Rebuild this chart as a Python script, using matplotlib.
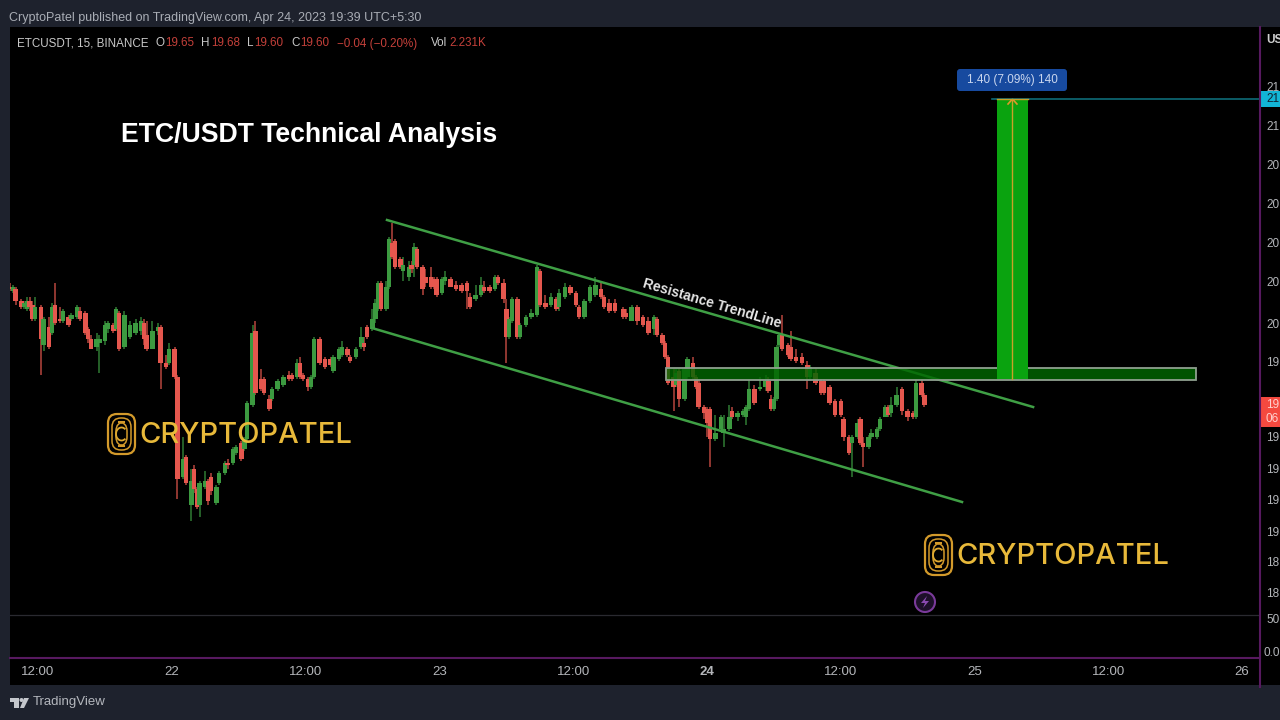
"""
plot.py
=======
ETC/USDT 15m chart with channel lines, supply box and long target.
"""
import numpy as np
import matplotlib
matplotlib.use("Agg")
import matplotlib.pyplot as plt
from matplotlib.patches import Rectangle, FancyBboxPatch, Circle, Polygon, Arc

plt.rcParams["font.family"] = ["Liberation Sans", "DejaVu Sans"]

# bar number counted in 15 min steps from Apr 21 12:00
bar_index = [
    -10, -9, -8, -6, -5, -4, -3, -2, -1, 1, 2, 4, 5, 6, 8, 9, 11, 12, 14, 15,
    17, 18, 19, 21, 22, 24, 25, 27, 28, 29, 31, 33, 35, 37, 38, 39, 41, 43, 44, 46,
    47, 49, 50, 52, 53, 55, 56, 57, 58, 60, 61, 62, 64, 65, 67, 68, 70, 71, 73, 74,
    75, 77, 78, 80, 81, 83, 84, 86, 88, 90, 91, 93, 94, 95, 97, 98, 99, 101, 103, 105,
    106, 108, 109, 111, 112, 114, 116, 117, 118, 120, 121, 122, 123, 125, 126, 127, 128, 130, 131, 133,
    134, 135, 136, 138, 139, 141, 142, 143, 145, 146, 148, 150, 152, 154, 155, 157, 159, 160, 162, 164,
    165, 167, 168, 169, 170, 172, 173, 175, 177, 179, 180, 182, 184, 186, 187, 189, 191, 193, 194, 196,
    198, 200, 202, 203, 205, 207, 210, 211, 213, 215, 217, 219, 221, 222, 224, 225, 226, 228, 229, 230,
    232, 233, 235, 236, 237, 239, 240, 241, 243, 245, 246, 248, 249, 251, 253, 254, 255, 257, 259, 261,
    262, 263, 264, 265, 266, 267, 269, 270, 272, 274, 276, 277, 279, 281, 282, 284, 286, 288, 289, 291,
    292, 294, 295, 296, 298, 299, 301, 302, 304, 305, 306, 308, 310, 312, 314, 315, 317, 318,
]
opens = [
    20.21, 20.19, 20.20, 20.14, 20.11, 20.10, 20.14, 20.12, 20.05, 20.11, 19.92, 20.01, 19.98, 20.12, 20.05, 20.04, 20.06, 20.05, 20.06, 20.09,
    20.08, 20.00, 19.95, 19.91, 19.93, 19.94, 20.00, 20.02, 20.00, 20.08, 19.91, 19.96, 19.98, 19.99, 20.03, 19.97, 19.90, 19.99, 20.01, 19.83,
    19.83, 19.90, 19.76, 19.26, 19.36, 19.12, 19.30, 19.20, 19.12, 19.21, 19.24, 19.26, 19.13, 19.23, 19.28, 19.33, 19.33, 19.38, 19.43, 19.40,
    19.45, 19.62, 19.99, 19.75, 19.75, 19.65, 19.65, 19.70, 19.72, 19.77, 19.77, 19.76, 19.83, 19.77, 19.75, 19.71, 19.76, 19.95, 19.85, 19.85,
    19.79, 19.85, 19.87, 19.90, 19.86, 19.86, 19.91, 19.93, 20.01, 20.00, 20.05, 20.10, 20.23, 20.10, 20.21, 20.43, 20.44, 20.35, 20.29, 20.26,
    20.32, 20.32, 20.40, 20.31, 20.26, 20.26, 20.25, 20.25, 20.18, 20.24, 20.25, 20.22, 20.22, 20.23, 20.16, 20.15, 20.17, 20.21, 20.21, 20.20,
    20.26, 20.23, 20.10, 19.96, 20.04, 20.15, 19.96, 20.02, 20.06, 20.07, 20.29, 20.13, 20.12, 20.15, 20.11, 20.16, 20.21, 20.18, 20.11, 20.06,
    20.14, 20.17, 20.20, 20.16, 20.13, 20.13, 20.10, 20.08, 20.04, 20.11, 20.06, 20.04, 20.00, 20.05, 19.97, 19.93, 19.86, 19.76, 19.72, 19.79,
    19.65, 19.76, 19.83, 19.76, 19.73, 19.61, 19.60, 19.60, 19.45, 19.50, 19.48, 19.50, 19.59, 19.56, 19.57, 19.56, 19.60, 19.70, 19.70, 19.71,
    19.74, 19.65, 19.60, 19.65, 19.92, 19.97, 19.92, 19.91, 19.86, 19.86, 19.82, 19.76, 19.78, 19.74, 19.74, 19.71, 19.64, 19.64, 19.55, 19.46,
    19.43, 19.46, 19.55, 19.43, 19.41, 19.46, 19.46, 19.50, 19.56, 19.61, 19.58, 19.62, 19.70, 19.59, 19.58, 19.56, 19.73, 19.67,
]
closes = [
    20.20, 20.21, 20.14, 20.11, 20.13, 20.14, 20.11, 20.05, 20.11, 19.95, 20.05, 19.91, 20.11, 20.03, 20.04, 20.09, 20.02, 20.07, 20.11, 20.05,
    19.98, 19.95, 19.90, 19.95, 19.95, 20.02, 20.03, 19.99, 20.10, 19.90, 20.07, 20.02, 20.03, 20.04, 19.95, 19.90, 19.99, 20.01, 19.83, 19.81,
    19.90, 19.76, 19.25, 19.35, 19.23, 19.24, 19.20, 19.11, 19.23, 19.24, 19.14, 19.19, 19.21, 19.28, 19.33, 19.32, 19.40, 19.41, 19.35, 19.45,
    19.63, 19.98, 19.68, 19.70, 19.68, 19.60, 19.70, 19.74, 19.76, 19.75, 19.75, 19.83, 19.76, 19.75, 19.71, 19.76, 19.95, 19.83, 19.81, 19.82,
    19.86, 19.90, 19.91, 19.87, 19.84, 19.90, 19.96, 19.91, 19.96, 20.05, 20.13, 20.23, 20.10, 20.21, 20.45, 20.36, 20.31, 20.31, 20.32, 20.31,
    20.30, 20.41, 20.31, 20.20, 20.23, 20.21, 20.21, 20.17, 20.25, 20.26, 20.21, 20.20, 20.19, 20.19, 20.11, 20.17, 20.22, 20.19, 20.19, 20.26,
    20.23, 20.15, 19.96, 20.05, 20.15, 19.96, 20.02, 20.06, 20.08, 20.31, 20.12, 20.11, 20.16, 20.10, 20.18, 20.21, 20.18, 20.12, 20.06, 20.14,
    20.21, 20.22, 20.16, 20.11, 20.09, 20.09, 20.06, 20.06, 20.11, 20.04, 20.02, 19.98, 20.06, 19.97, 19.93, 19.86, 19.73, 19.71, 19.78, 19.65,
    19.80, 19.85, 19.76, 19.71, 19.61, 19.58, 19.53, 19.45, 19.48, 19.56, 19.50, 19.56, 19.56, 19.58, 19.59, 19.61, 19.70, 19.63, 19.71, 19.74,
    19.69, 19.60, 19.65, 19.91, 19.97, 19.90, 19.87, 19.85, 19.84, 19.83, 19.76, 19.81, 19.73, 19.68, 19.68, 19.63, 19.57, 19.57, 19.46, 19.38,
    19.46, 19.53, 19.43, 19.41, 19.46, 19.48, 19.50, 19.55, 19.61, 19.57, 19.62, 19.67, 19.59, 19.56, 19.56, 19.73, 19.67, 19.62,
]
highs = [
    20.23, 20.22, 20.21, 20.15, 20.14, 20.16, 20.16, 20.14, 20.16, 20.12, 20.06, 20.06, 20.13, 20.23, 20.11, 20.10, 20.07, 20.08, 20.12, 20.11,
    20.09, 20.01, 19.97, 19.98, 19.97, 20.04, 20.04, 20.03, 20.11, 20.09, 20.09, 20.04, 20.05, 20.06, 20.05, 20.04, 20.04, 20.03, 20.02, 19.87,
    19.93, 19.91, 19.77, 19.46, 19.37, 19.30, 19.32, 19.21, 19.24, 19.29, 19.25, 19.28, 19.22, 19.29, 19.34, 19.35, 19.41, 19.42, 19.44, 19.46,
    19.64, 20.02, 20.04, 19.80, 19.76, 19.67, 19.71, 19.75, 19.77, 19.79, 19.78, 19.85, 19.86, 19.78, 19.76, 19.77, 19.96, 19.96, 19.86, 19.86,
    19.87, 19.91, 19.94, 19.91, 19.87, 19.91, 20.01, 19.96, 20.02, 20.10, 20.15, 20.24, 20.24, 20.24, 20.46, 20.53, 20.45, 20.36, 20.36, 20.34,
    20.34, 20.43, 20.41, 20.32, 20.30, 20.31, 20.26, 20.26, 20.26, 20.29, 20.26, 20.24, 20.23, 20.24, 20.18, 20.22, 20.26, 20.24, 20.22, 20.27,
    20.27, 20.25, 20.15, 20.06, 20.16, 20.16, 20.03, 20.07, 20.10, 20.32, 20.30, 20.17, 20.18, 20.16, 20.20, 20.23, 20.22, 20.19, 20.12, 20.15,
    20.22, 20.26, 20.23, 20.17, 20.15, 20.15, 20.11, 20.10, 20.12, 20.12, 20.07, 20.06, 20.07, 20.06, 19.98, 19.94, 19.87, 19.80, 19.80, 19.80,
    19.81, 19.86, 19.86, 19.77, 19.75, 19.62, 19.61, 19.61, 19.57, 19.57, 19.57, 19.62, 19.61, 19.59, 19.60, 19.62, 19.75, 19.72, 19.76, 19.77,
    19.76, 19.67, 19.66, 19.92, 19.98, 20.07, 19.93, 19.99, 19.90, 19.88, 19.84, 19.82, 19.80, 19.75, 19.75, 19.72, 19.65, 19.65, 19.56, 19.47,
    19.47, 19.55, 19.56, 19.46, 19.47, 19.50, 19.51, 19.56, 19.62, 19.62, 19.66, 19.71, 19.71, 19.60, 19.59, 19.75, 19.75, 19.68,
]
lows = [
    20.19, 20.18, 20.12, 20.10, 20.10, 20.09, 20.09, 20.04, 20.04, 19.77, 19.89, 19.90, 19.97, 20.02, 20.03, 20.03, 20.01, 20.04, 20.05, 20.04,
    19.97, 19.93, 19.90, 19.89, 19.78, 19.92, 19.98, 19.98, 19.99, 19.89, 19.90, 19.95, 19.97, 19.97, 19.92, 19.89, 19.90, 19.97, 19.70, 19.80,
    19.82, 19.75, 19.15, 19.25, 19.22, 19.04, 19.18, 19.10, 19.06, 19.20, 19.12, 19.17, 19.12, 19.22, 19.27, 19.30, 19.32, 19.37, 19.34, 19.39,
    19.44, 19.61, 19.67, 19.69, 19.67, 19.59, 19.64, 19.69, 19.71, 19.74, 19.74, 19.75, 19.75, 19.74, 19.69, 19.70, 19.75, 19.82, 19.80, 19.81,
    19.78, 19.84, 19.86, 19.86, 19.83, 19.85, 19.90, 19.89, 19.95, 19.99, 20.03, 20.09, 20.09, 20.09, 20.20, 20.35, 20.30, 20.30, 20.24, 20.24,
    20.28, 20.26, 20.30, 20.17, 20.21, 20.20, 20.20, 20.16, 20.17, 20.22, 20.21, 20.19, 20.18, 20.10, 20.10, 20.14, 20.16, 20.18, 20.18, 20.19,
    20.22, 20.13, 19.83, 19.95, 20.03, 19.95, 19.95, 20.01, 20.05, 20.06, 20.11, 20.10, 20.11, 20.09, 20.09, 20.15, 20.17, 20.11, 20.05, 20.05,
    20.13, 20.16, 20.15, 20.10, 20.08, 20.08, 20.05, 20.05, 20.04, 20.02, 20.01, 19.97, 19.97, 19.96, 19.92, 19.85, 19.72, 19.59, 19.71, 19.61,
    19.64, 19.75, 19.75, 19.70, 19.60, 19.55, 19.46, 19.31, 19.44, 19.49, 19.41, 19.49, 19.55, 19.54, 19.56, 19.52, 19.59, 19.62, 19.69, 19.69,
    19.68, 19.59, 19.59, 19.64, 19.91, 19.89, 19.86, 19.84, 19.83, 19.82, 19.70, 19.75, 19.72, 19.67, 19.67, 19.62, 19.56, 19.56, 19.44, 19.37,
    19.26, 19.45, 19.42, 19.31, 19.40, 19.45, 19.45, 19.49, 19.56, 19.56, 19.56, 19.61, 19.57, 19.54, 19.55, 19.55, 19.66, 19.61,
]

upper_channel_x = [125.2, 357.0]
upper_channel_y = [20.545, 19.61]
lower_channel_x = [119.8, 331.5]
lower_channel_y = [20.005, 19.135]
zone_x = [225.3, 415.4]
zone_y = [19.745, 19.805]
target_x = [344.0, 355.2]
target_y = [19.75, 21.15]
target_line_start = 342.2

x_ticks = [0, 48, 96, 144, 192, 240, 288, 336, 384, 432]
x_labels = ["12:00", "22", "12:00", "23", "12:00", "24", "12:00", "25", "12:00", "26"]
y_ticks = [21.215, 21.02, 20.825, 20.63, 20.435, 20.24, 20.03, 19.835, 19.465, 19.305, 19.15, 18.99, 18.84, 18.685]
y_labels = ["21", "21", "20", "20", "20", "20", "20", "19", "19", "19", "19", "19", "18", "18"]

BG = "#1e222d"
UP = "#3c9a40"
DOWN = "#e5574e"
TEXT = "#b4b6ba"
PURPLE = "#57195f"
GOLD = "#e8b93a"


def draw_logo(ax, x, y):
    """Coin mark plus wordmark, x/y = top left of the coin in pixels."""
    w, h = 27, 40
    for inset, lw in [(0, 1.6), (4, 1.1), (8, 1.1)]:
        ax.add_patch(FancyBboxPatch((x + inset + 5, y + inset + 5), w - 2 * inset - 10, h - 2 * inset - 10,
                                    boxstyle="round,pad=5,rounding_size=9", fc="none",
                                    ec="#d39a2b", lw=lw))
    ax.add_patch(Arc((x + w / 2, y + h / 2), 11, 13, theta1=50, theta2=310, ec="#e0aa30", lw=1.3))
    ax.text(x + w + 4, y + h / 2 + 1.5, "CRYPTOPATEL", color=GOLD, fontsize=21,
            family="Inter", fontweight="medium", va="center", ha="left")


def main():
    fig = plt.figure(figsize=(12.8, 7.2), dpi=100, facecolor=BG)

    # black plot area including the scale strips
    back = fig.add_axes([0, 0, 1, 1], zorder=0)
    back.set_xlim(0, 1280)
    back.set_ylim(720, 0)
    back.axis("off")
    back.add_patch(Rectangle((10, 27), 1270, 658, fc="black", ec="none"))

    ax = fig.add_axes([10 / 1280, (720 - 658) / 720, 1250 / 1280, 631 / 720], zorder=1)
    ax.patch.set_alpha(0)
    ax.set_xlim(-10.05, 438.4)
    ax.set_ylim(18.355, 21.51)
    for s in ax.spines.values():
        s.set_visible(False)

    idx = np.array(bar_index)
    o, c, h, l = map(np.array, (opens, closes, highs, lows))
    up = c >= o
    colors = np.where(up, UP, DOWN)
    ax.vlines(idx, l, h, colors=colors, lw=1.1, alpha=0.8, zorder=2)
    ax.bar(idx, np.abs(c - o), bottom=np.minimum(o, c), width=1.6, color=colors, lw=0, zorder=3)

    ax.plot(upper_channel_x, upper_channel_y, color="#3f9f45", lw=1.8, zorder=4)
    ax.plot(lower_channel_x, lower_channel_y, color="#3f9f45", lw=1.8, zorder=4)

    ax.add_patch(Rectangle((zone_x[0], zone_y[0]), zone_x[1] - zone_x[0], zone_y[1] - zone_y[0],
                           fc=(0.0, 0.4, 0.0, 0.82), ec="#8fa08f", lw=1.3, zorder=5))
    ax.add_patch(Rectangle((target_x[0], target_y[0]), target_x[1] - target_x[0], target_y[1] - target_y[0],
                           fc="#0aa30f", ec="none", zorder=5))
    mid = (target_x[0] + target_x[1]) / 2
    ax.plot([mid, mid], target_y, color="#c9a227", lw=1, zorder=6)
    ax.plot([mid - 1.6, mid, mid + 1.6], [target_y[1] - 0.025, target_y[1], target_y[1] - 0.025],
            color="#e0982a", lw=1.2, zorder=6)
    ax.plot([target_line_start, ax.get_xlim()[1]], [target_y[1], target_y[1]], color="#0e6c78", lw=1.2, zorder=6)
    ax.plot([target_x[0], target_x[1]], [target_y[1], target_y[1]], color="#c9a227", lw=1, zorder=6)
    ax.axhline(18.57, color="#2a2a30", lw=0.9, zorder=1)

    ax.set_xticks(x_ticks, labels=x_labels)
    ax.set_yticks(y_ticks, labels=y_labels)
    ax.yaxis.tick_right()
    ax.tick_params(axis="x", length=0, pad=6, labelsize=9.5, colors=TEXT)
    ax.tick_params(axis="y", length=0, pad=4.5, labelsize=8.5, colors=TEXT)
    ax.get_xticklabels()[5].set_fontweight("bold")

    # everything else sits on a pixel overlay
    top = fig.add_axes([0, 0, 1, 1], zorder=2)
    top.set_xlim(0, 1280)
    top.set_ylim(720, 0)
    top.axis("off")

    top.plot([10, 1260], [658, 658], color=PURPLE, lw=1.5)
    top.plot([1260, 1260], [27, 687], color=PURPLE, lw=1.5)

    top.text(9, 17.5, "CryptoPatel published on TradingView.com, Apr 24, 2023 19:39 UTC+5:30",
             color="#a9adb5", fontsize=9, va="center")

    legend = [(17, "ETCUSDT, 15, BINANCE", "#c8c8c8"), (155, "O", "#c8c8c8"), (165, "19.65", "#c4403a"),
              (201, "H", "#c8c8c8"), (211, "19.68", "#c4403a"), (247, "L", "#c8c8c8"), (254, "19.60", "#c4403a"),
              (291, "C", "#c8c8c8"), (300, "19.60", "#c4403a"), (337, "\u22120.04 (\u22120.20%)", "#c4403a"),
              (431, "Vol", "#c8c8c8"), (449, "2.231K", "#c4403a")]
    for x, txt, col in legend:
        top.text(x, 43.5, txt, color=col, fontsize=8.4, va="center")

    top.text(121, 135, "ETC/USDT Technical Analysis", color="white", fontsize=19.15,
             fontweight="bold", va="center")
    top.text(712, 304, "Resistance TrendLine", color="#e6e6e6", fontsize=10, fontweight="bold",
             rotation=-16.5, rotation_mode="anchor", ha="center", va="center")

    top.add_patch(FancyBboxPatch((960, 72), 104, 16, boxstyle="round,pad=3,rounding_size=3",
                                 fc="#174a9f", ec="none"))
    top.text(1012, 80, "1.40 (7.09%) 140", color="#c9d6ee", fontsize=8.5, ha="center", va="center")

    draw_logo(top, 108, 414)
    draw_logo(top, 925, 535)

    top.add_patch(Circle((925, 602), 10, fc="#1d1029", ec="#7a3a9a", lw=1.5))
    top.add_patch(Polygon([(927, 596), (921, 603), (925, 603), (923, 608), (929, 601), (925, 601)],
                          closed=True, fc="#8a4ab0", ec="none"))

    # price scale tags and the labels that fit in the strip
    top.text(1266, 40, "US", color="#d0d0d0", fontsize=8.5, fontweight="bold", va="center")
    top.add_patch(Rectangle((1260, 91), 20, 16, fc="#12b5d6", ec="none"))
    top.text(1266, 99, "21", color="#123", fontsize=8.5, va="center")
    top.add_patch(Rectangle((1260, 397), 20, 30, fc="#f4493f", ec="none"))
    top.text(1266, 405, "19", color="#ffd0cc", fontsize=8.5, va="center")
    top.text(1266, 419, "06", color="#ffd0cc", fontsize=8.5, va="center")
    top.text(1266, 620, "50", color=TEXT, fontsize=8.5, va="center")
    top.text(1264, 653, "0.0", color=TEXT, fontsize=8.5, va="center")

    # TradingView mark in the footer
    mark = "#c4c7cc"
    top.add_patch(Rectangle((10, 698), 9, 4, fc=mark, ec="none"))
    top.add_patch(Rectangle((14, 698), 5, 10, fc=mark, ec="none"))
    top.add_patch(Circle((21.5, 700), 2, fc=mark, ec="none"))
    top.add_patch(Polygon([(24, 698), (29, 698), (24, 708), (20, 708)], closed=True, fc=mark, ec="none"))
    top.text(33, 702.5, "TradingView", color="#b4b7bd", fontsize=9.5, va="center")

    fig.savefig("out.png", dpi=100, facecolor=BG)


if __name__ == "__main__":
    main()
